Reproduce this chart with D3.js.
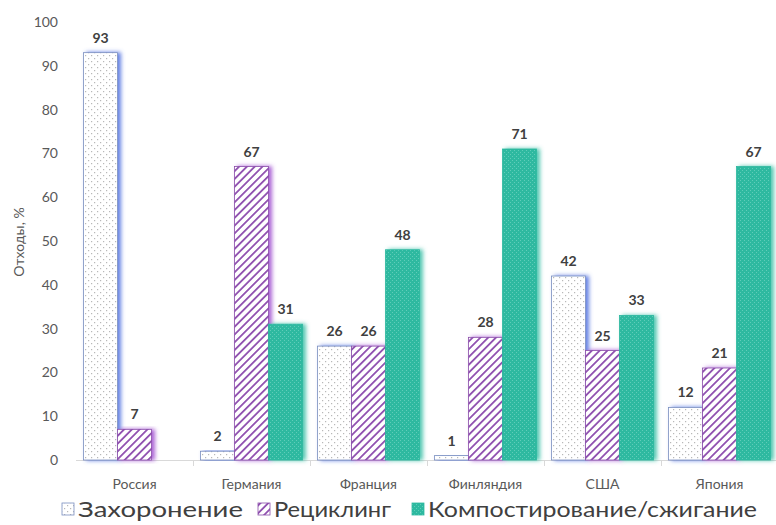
<!DOCTYPE html>
<html><head><meta charset="utf-8">
<script src="https://cdn.jsdelivr.net/npm/d3@7"></script>
<style>body{margin:0;background:#fff}svg{display:block}</style>
</head><body><svg id="c" width="776" height="525"></svg>
<script>
const categories = ["Россия","Германия","Франция","Финляндия","США","Япония"];
const seriesNames = ["Захоронение","Рециклинг","Компостирование/сжигание"];
const landfill = [93,2,26,1,42,12];
const recycling = [7,67,26,28,25,21];
const compost = [0,31,48,71,33,67];
const yTicks = [0,10,20,30,40,50,60,70,80,90,100];

const svg = d3.select("#c");
const font = "Lato, 'Open Sans', sans-serif";
const x0 = d3.scaleBand().domain(categories).range([76,778]).paddingInner(0).paddingOuter(0);
const x1 = d3.scaleBand().domain([0,1,2]).range([7.5, x0.bandwidth()-7.5]);
const y = d3.scaleLinear().domain([0,100]).range([460,22]);

const defs = svg.append("defs");
const pd = defs.append("pattern").attr("id","pDots").attr("patternUnits","userSpaceOnUse").attr("width",6).attr("height",6);
pd.append("rect").attr("width",6).attr("height",6).attr("fill","#fff");
pd.append("rect").attr("x",1).attr("y",1).attr("width",1.2).attr("height",1.2).attr("fill","#b8b8b8");
pd.append("rect").attr("x",4).attr("y",4).attr("width",1.2).attr("height",1.2).attr("fill","#b8b8b8");
const ps = defs.append("pattern").attr("id","pStripes").attr("patternUnits","userSpaceOnUse").attr("width",5.5).attr("height",5.5).attr("patternTransform","rotate(45)");
ps.append("rect").attr("width",5.5).attr("height",5.5).attr("fill","#fff");
ps.append("rect").attr("x",0).attr("width",1.8).attr("height",5.5).attr("fill","#9050b0");
const pt = defs.append("pattern").attr("id","pTeal").attr("patternUnits","userSpaceOnUse").attr("width",4).attr("height",4);
pt.append("rect").attr("width",4).attr("height",4).attr("fill","#2db9a0");
pt.append("rect").attr("x",0).attr("y",0).attr("width",1).attr("height",1).attr("fill","#5fcdb9");
pt.append("rect").attr("x",2).attr("y",2).attr("width",1).attr("height",1).attr("fill","#5fcdb9");

const shadowColors = ["#4f70e0","#a050d0","#3cc0a8"];
shadowColors.forEach((c,i)=>{
  const f = defs.append("filter").attr("id","sh"+i).attr("x","-30%").attr("y","-10%").attr("width","160%").attr("height","120%");
  f.append("feDropShadow").attr("dx",3).attr("dy",0).attr("stdDeviation",2).attr("flood-color",c).attr("flood-opacity",0.9);
});

const fills = ["url(#pDots)","url(#pStripes)","url(#pTeal)"];
const strokes = ["#7a8fc0","#8a4eaa","#2db9a0"];
const series = [landfill, recycling, compost];

svg.append("line").attr("x1",76).attr("x2",776).attr("y1",460.5).attr("y2",460.5).attr("stroke","#d9d9d9");
categories.slice(1).forEach(c=>{
  svg.append("line").attr("x1",x0(c)+0.5).attr("x2",x0(c)+0.5).attr("y1",460).attr("y2",466).attr("stroke","#d9d9d9");
});

svg.append("g").selectAll("text").data(yTicks).join("text")
  .attr("x",58).attr("y",d=>y(d)).attr("dy","0.35em").attr("text-anchor","end")
  .attr("font-family",font).attr("font-size",14).attr("fill","#595959").text(d=>d);

svg.append("text").attr("transform","translate(24,242) rotate(-90)").attr("text-anchor","middle")
  .attr("font-family",font).attr("font-size",14).attr("fill","#595959").text("Отходы, %");

series.forEach((vals,si)=>{
  const g = svg.append("g");
  categories.forEach((c,ci)=>{
    const v = vals[ci];
    if (v<=0) return;
    const bx = x0(c)+x1(si), bw = x1.bandwidth();
    g.append("rect").attr("x",bx).attr("y",y(v)).attr("width",bw).attr("height",y(0)-y(v))
      .attr("fill",fills[si]).attr("stroke",strokes[si]).attr("stroke-width",0.8)
      .attr("filter","url(#sh"+si+")");
    svg.append("text").attr("x",bx+bw/2).attr("y",y(v)-10).attr("text-anchor","middle")
      .attr("font-family",font).attr("font-weight","bold").attr("font-size",14).attr("fill","#404040").text(v);
  });
});

svg.append("g").selectAll("text").data(categories).join("text")
  .attr("x",d=>x0(d)+x0.bandwidth()/2).attr("y",489).attr("text-anchor","middle")
  .attr("font-family",font).attr("font-size",14).attr("fill","#595959").text(d=>d);

const legX = [62, 258, 412];
const legW = [165, 117, 329];
seriesNames.forEach((n,i)=>{
  svg.append("rect").attr("x",legX[i]).attr("y",503).attr("width",12).attr("height",12)
    .attr("fill",fills[i]).attr("stroke",strokes[i]).attr("stroke-width",0.8);
  svg.append("text").attr("x",legX[i]+16).attr("y",517).attr("font-family",font).attr("font-size",21)
    .attr("textLength",legW[i]).attr("lengthAdjust","spacingAndGlyphs")
    .attr("fill","#404040").text(n);
});
</script></body></html>
